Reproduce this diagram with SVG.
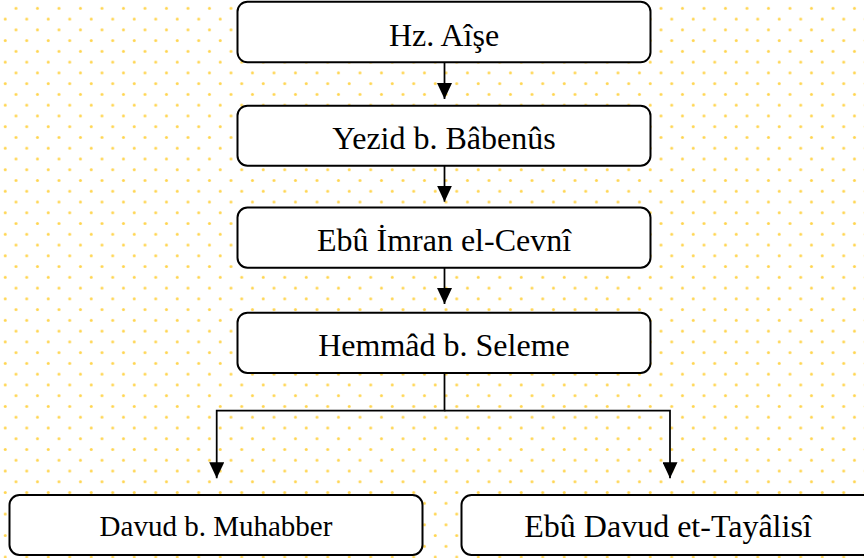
<svg xmlns="http://www.w3.org/2000/svg" width="864" height="558" viewBox="0 0 864 558">
  <style>
    .box { fill: #ffffff; stroke: #000000; stroke-width: 2; }
    .lbl { font-size: 32px; fill: #000000; text-anchor: middle; }
    .small { font-size: 29px; }
    .conn { fill: none; stroke: #000000; stroke-width: 1.75; }
  </style>
  <defs>
    <pattern id="dots" patternUnits="userSpaceOnUse" x="0" y="0" width="21.5" height="21.52">
      <circle cx="16" cy="8.3" r="1.5" fill="#FFD54F"/>
      <circle cx="5.25" cy="19.06" r="1.5" fill="#FFD54F"/>
    </pattern>
    <marker id="arrow" markerUnits="userSpaceOnUse" markerWidth="16" markerHeight="15" refX="16" refY="7.5" orient="auto">
      <path d="M0,0 L16,7.5 L0,15 z" fill="#000000"/>
    </marker>
  </defs>
  <rect x="0" y="0" width="864" height="558" fill="#ffffff"/>
  <rect x="0" y="0" width="864" height="558" fill="url(#dots)"/>

  <g id="connectors">
    <line class="conn" x1="444.5" y1="62.3" x2="444.5" y2="99" marker-end="url(#arrow)"/>
    <line class="conn" x1="444.5" y1="165.7" x2="444.5" y2="201.7" marker-end="url(#arrow)"/>
    <line class="conn" x1="444.5" y1="267.7" x2="444.5" y2="304" marker-end="url(#arrow)"/>
    <polyline class="conn" points="444.5,373 444.5,410.7 216.7,410.7 216.7,478.3" marker-end="url(#arrow)"/>
    <polyline class="conn" points="444.5,410.7 670,410.7 670,478.3" marker-end="url(#arrow)"/>
  </g>

  <g font-family="'Liberation Serif', 'Times New Roman', Times, serif">
  <g id="node-aise">
    <rect class="box" x="237.5" y="1.7" width="413" height="60.6" rx="10"/>
    <text class="lbl" x="444" y="45.7" font-family="Liberation Serif, serif">Hz. Aîşe</text>
  </g>
  <g id="node-yezid">
    <rect class="box" x="237.5" y="105.7" width="413" height="60" rx="10"/>
    <text class="lbl" x="444" y="149.3" font-family="Liberation Serif, serif">Yezid b. Bâbenûs</text>
  </g>
  <g id="node-ebu-imran">
    <rect class="box" x="237.5" y="207.5" width="413" height="60.2" rx="10"/>
    <text class="lbl" x="444" y="250.7" font-family="Liberation Serif, serif">Ebû İmran el-Cevnî</text>
  </g>
  <g id="node-hemmad">
    <rect class="box" x="237.5" y="312.7" width="413" height="60.3" rx="10"/>
    <text class="lbl" x="444" y="355.7" font-family="Liberation Serif, serif">Hemmâd b. Seleme</text>
  </g>
  <g id="node-davud">
    <rect class="box" x="9.5" y="495" width="413" height="60" rx="10"/>
    <text class="lbl small" x="216" y="536" font-family="Liberation Serif, serif">Davud b. Muhabber</text>
  </g>
  <g id="node-tayalisi">
    <rect class="box" x="461.5" y="495" width="413" height="60" rx="10"/>
    <text class="lbl" x="668" y="537.3" font-family="Liberation Serif, serif">Ebû Davud et-Tayâlisî</text>
  </g>
  </g>
</svg>
